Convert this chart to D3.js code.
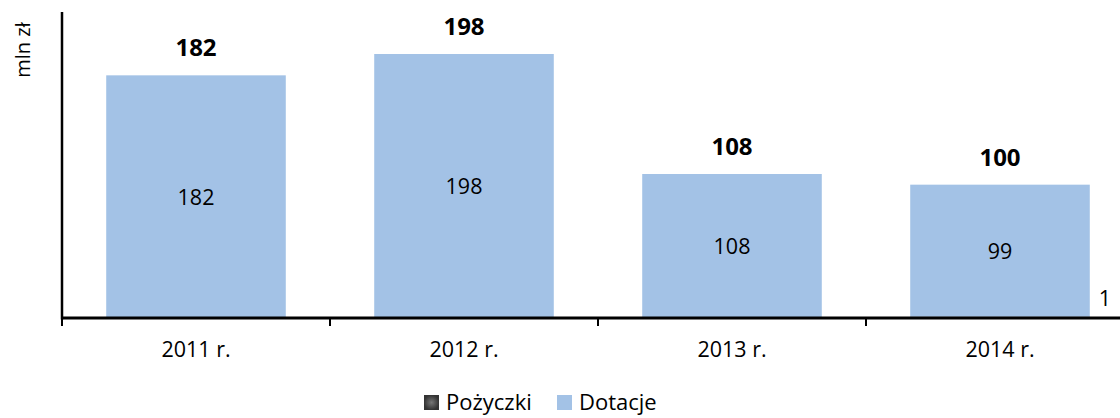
<!DOCTYPE html>
<html>
<head>
<meta charset="utf-8">
<script src="https://cdn.jsdelivr.net/npm/d3@7"></script>
<style>
  body { margin: 0; background: #fff; }
  svg { display: block; font-family: "Open Sans", sans-serif; }
</style>
</head>
<body>
<svg id="chart" width="1120" height="418"></svg>
<script>
// chart data
var categories = ["2011 r.", "2012 r.", "2013 r.", "2014 r."];
var pozyczki = [0, 0, 0, 1];
var dotacje = [182, 198, 108, 99];
var seriesNames = ["Pożyczki", "Dotacje"];

var svg = d3.select("#chart");

var colors = {"Pożyczki": "#4a4a4a", "Dotacje": "#a3c2e6"};

// build rows for the stack
var rows = categories.map(function (c, i) {
  return {cat: c, "Pożyczki": pozyczki[i], "Dotacje": dotacje[i]};
});
var stacked = d3.stack().keys(seriesNames)(rows);

var x = d3.scaleBand()
  .domain(categories)
  .range([62, 1134])
  .paddingInner(0.33)
  .paddingOuter(0.165);

var y = d3.scaleLinear()
  .domain([0, 229.5])
  .range([318, 12]);

// bars
svg.selectAll("g.series")
  .data(stacked)
  .enter().append("g")
    .attr("class", "series")
    .attr("fill", function (d) { return colors[d.key]; })
  .selectAll("rect")
  .data(function (d) { return d; })
  .enter().append("rect")
    .attr("x", function (d) { return x(d.data.cat); })
    .attr("y", function (d) { return y(d[1]); })
    .attr("width", x.bandwidth())
    .attr("height", function (d) { return y(d[0]) - y(d[1]); });

// labels inside Dotacje
svg.selectAll(".lab-dot")
  .data(stacked[1])
  .enter().append("text")
    .attr("x", function (d) { return x(d.data.cat) + x.bandwidth() / 2; })
    .attr("y", function (d) { return (y(d[0]) + y(d[1])) / 2 + 8; })
    .attr("text-anchor", "middle")
    .style("font-size", "21.5px")
    .style("fill", "#000")
    .text(function (d) { return d.data["Dotacje"]; });

// Pożyczki labels (only non-zero)
svg.selectAll(".lab-poz")
  .data(stacked[0].filter(function (d) { return d.data["Pożyczki"] > 0; }))
  .enter().append("text")
    .attr("x", function (d) { return x(d.data.cat) + x.bandwidth() + 15; })
    .attr("y", function (d) { return y(d[1]) - 11; })
    .attr("text-anchor", "middle")
    .style("font-size", "21.5px")
    .style("fill", "#000")
    .text(function (d) { return d.data["Pożyczki"]; });

// totals on top
svg.selectAll(".lab-tot")
  .data(rows)
  .enter().append("text")
    .attr("x", function (d) { return x(d.cat) + x.bandwidth() / 2; })
    .attr("y", function (d) { return y(d["Pożyczki"] + d["Dotacje"]) - 19; })
    .attr("text-anchor", "middle")
    .style("font-size", "24px")
    .style("font-weight", "bold")
    .style("fill", "#000")
    .text(function (d) { return d["Pożyczki"] + d["Dotacje"]; });

// y axis line
svg.append("line")
  .attr("x1", 62).attr("x2", 62)
  .attr("y1", y.range()[1]).attr("y2", y(0) + 1.5)
  .attr("stroke", "#000").attr("stroke-width", 2.5);

// x axis: baseline + ticks at category borders
svg.append("line")
  .attr("x1", 61).attr("x2", 1120)
  .attr("y1", y(0)).attr("y2", y(0))
  .attr("stroke", "#000").attr("stroke-width", 3);

svg.selectAll(".tick")
  .data(categories)
  .enter().append("line")
    .attr("x1", function (d) { return x(d) - x.step() * x.paddingInner() / 2; })
    .attr("x2", function (d) { return x(d) - x.step() * x.paddingInner() / 2; })
    .attr("y1", y(0)).attr("y2", y(0) + 8)
    .attr("stroke", "#000").attr("stroke-width", 2);

svg.selectAll(".cat")
  .data(categories)
  .enter().append("text")
    .attr("x", function (d) { return x(d) + x.bandwidth() / 2; })
    .attr("y", 357)
    .attr("text-anchor", "middle")
    .style("font-size", "21.5px")
    .style("fill", "#000")
    .text(function (d) { return d; });

// y title
svg.append("text")
  .attr("transform", "translate(30,50)rotate(-90)")
  .attr("text-anchor", "middle")
  .style("font-size", "20px")
  .style("fill", "#000")
  .text("mln zł");

// legend
var defs = svg.append("defs");
var grad = defs.append("radialGradient").attr("id", "pozGrad");
grad.append("stop").attr("offset", "0%").attr("stop-color", "#777");
grad.append("stop").attr("offset", "100%").attr("stop-color", "#333");

var legend = svg.append("g");
var legX = [424, 557];
seriesNames.forEach(function (name, i) {
  legend.append("rect")
    .attr("x", legX[i]).attr("y", 395)
    .attr("width", 15).attr("height", 15)
    .attr("fill", i === 0 ? "url(#pozGrad)" : colors[name]);
  legend.append("text")
    .attr("x", legX[i] + 22).attr("y", 410)
    .style("font-size", "22px")
    .style("fill", "#000")
    .text(name);
});
</script>
</body>
</html>
